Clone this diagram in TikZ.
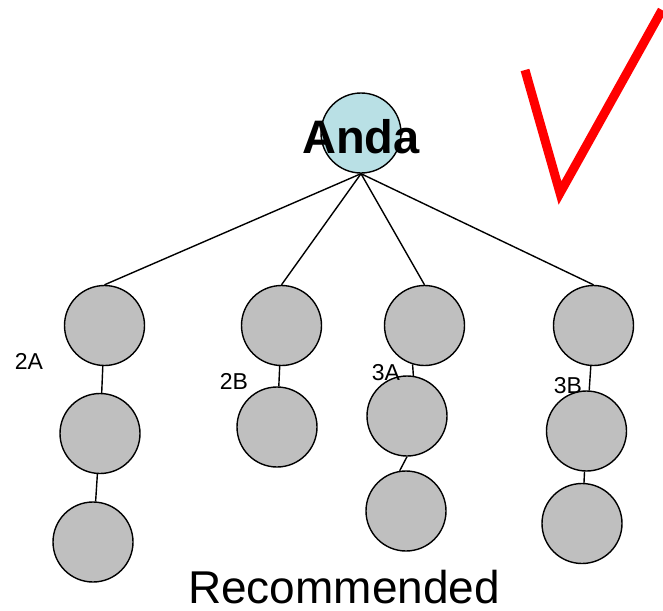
\documentclass[tikz,border=0pt]{standalone}
\usepackage{fontspec}
\setmainfont{Liberation Sans}
\usepackage{tikz}

\begin{document}
\begin{tikzpicture}[x=1pt,y=-1pt,
    ball/.style={circle,draw,line width=1.4pt,fill=black!25,minimum size=80pt,inner sep=0pt},
    tag/.style={font=\fontsize{23}{23}\selectfont,inner sep=0pt,anchor=base}]
                    \useasboundingbox (0,0) rectangle (663,610);

                    \node[ball,fill={rgb,255:red,185;green,224;blue,229}] (anda) at (361,133) {};
                    \node[anchor=base,inner sep=0pt,font=\fontsize{47}{47}\selectfont\bfseries] (andatext) at (361,153) {Anda};

                    \node[ball] (a1) at (104.5,325.5) {};
                    \node[ball] (a2) at (100,433.5) {};
                    \node[ball] (a3) at (93,542) {};
                    \node[ball] (b1) at (281.5,325.5) {};
                    \node[ball] (b2) at (277,427) {};
                    \node[ball] (c1) at (424.5,325.5) {};
                    \node[ball] (c2) at (407,416) {};
                    \node[ball] (c3) at (406,511) {};
                    \node[ball] (d1) at (593.5,325.5) {};
                    \node[ball] (d2) at (586.5,431) {};
                    \node[ball] (d3) at (582,523.5) {};

                    \draw[line width=1.4pt] (anda.south) -- (a1.north);
                    \draw[line width=1.4pt] (anda.south) -- (b1.north);
                    \draw[line width=1.4pt] (anda.south) -- (c1.north);
                    \draw[line width=1.4pt] (anda.south) -- (d1.north);
                    \draw[line width=1.4pt] (a1) -- (a2);
                    \draw[line width=1.4pt] (a2) -- (a3);
                    \draw[line width=1.4pt] (b1) -- (b2);
                    \draw[line width=1.4pt] (c1.-107) -- (c2.81);
                    \draw[line width=1.4pt] (c2.-90) -- (c3.99);
                    \draw[line width=1.4pt] (d1) -- (d2);
                    \draw[line width=1.4pt] (d2) -- (d3);

                    \node[tag] (l2a) at (29,369) {2A};
                    \node[tag] (l2b) at (234,389) {2B};
                    \node[tag] (l3a) at (386,380) {3A};
                    \node[tag] (l3b) at (568,393) {3B};

                    \draw[red,line width=9pt] (525,70) -- (560,193) -- (662,10);

                    \node[anchor=base,inner sep=0pt,font=\fontsize{46}{46}\selectfont] (rec) at (344,603) {Recommended};
                \end{tikzpicture}
\end{document}
